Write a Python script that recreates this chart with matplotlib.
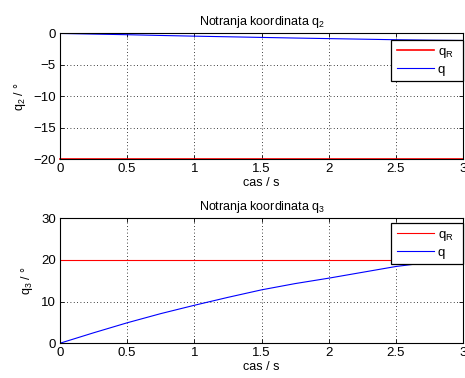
import numpy as np
import matplotlib
matplotlib.use("Agg")
import matplotlib.pyplot as plt

plt.rcParams['font.family'] = ['Liberation Sans', 'DejaVu Sans']
plt.rcParams['mathtext.fontset'] = 'custom'
plt.rcParams['mathtext.rm'] = 'Liberation Sans'
plt.rcParams['mathtext.default'] = 'rm'
plt.rcParams['font.size'] = 9.5

# time samples
t = [0, 0.25, 0.5, 0.75, 1.0, 1.25, 1.5, 1.75, 2.0, 2.25, 2.5, 2.75, 3.0]
q2 = [0, -0.1, -0.2, -0.32, -0.43, -0.53, -0.63, -0.73, -0.82, -0.91, -1.0, -1.07, -1.12]
q2_ref = [-20] * len(t)
q3 = [0, 2.5, 4.9, 7.1, 9.1, 11.0, 12.8, 14.3, 15.6, 17.0, 18.4, 19.4, 20.4]
q3_ref = [20] * len(t)

xticks = [0, 0.5, 1, 1.5, 2, 2.5, 3]
xticklabels = ['0', '0.5', '1', '1.5', '2', '2.5', '3']

fig = plt.figure(figsize=(4.65, 3.78), dpi=100)
ax1 = fig.add_axes([0.129, 0.579, 0.867, 0.3325])
ax2 = fig.add_axes([0.129, 0.092, 0.867, 0.331])


def style(ax, yticks, ylim, title, ylabel, leg_anchor):
    ax.set_xlim(0, 3)
    ax.set_ylim(*ylim)
    ax.set_xticks(xticks)
    ax.set_xticklabels(xticklabels)
    ax.set_yticks(yticks)
    ax.tick_params(direction='in', top=True, right=True, length=3, width=0.6,
                   pad=3, labelsize=9.5)
    ax.grid(True, color='black', linestyle=(0, (1, 3)), linewidth=0.6)
    for s in ax.spines.values():
        s.set_linewidth(0.8)
    ax.set_title(title, fontsize=9, pad=6)
    ax.set_xlabel('cas / s', labelpad=1, fontsize=9)
    ax.set_ylabel(ylabel, labelpad=4, fontsize=9)
    leg = ax.legend(loc='upper right', bbox_to_anchor=leg_anchor, fancybox=False,
                    framealpha=1, edgecolor='black', handlelength=2.8,
                    handletextpad=0.3, borderpad=0.4, labelspacing=0.3,
                    borderaxespad=0, fontsize=9.5)
    leg.get_frame().set_linewidth(0.9)


ax1.plot(t, q2_ref, color='red', linewidth=1.2, label='q$_R$  ', clip_on=False)
ax1.plot(t, q2, color='blue', linewidth=0.8, label='q')
style(ax1, [-20, -15, -10, -5, 0], (-20, 0), 'Notranja koordinata q$_2$',
      'q$_2$ / °', (1.0, 0.945))

ax2.plot(t, q3_ref, color='red', linewidth=0.8, label='q$_R$  ')
ax2.plot(t, q3, color='blue', linewidth=0.8, label='q')
style(ax2, [0, 10, 20, 30], (0, 30), 'Notranja koordinata q$_3$',
      'q$_3$ / °', (1.0, 0.96))

fig.savefig('out.png', dpi=100)
